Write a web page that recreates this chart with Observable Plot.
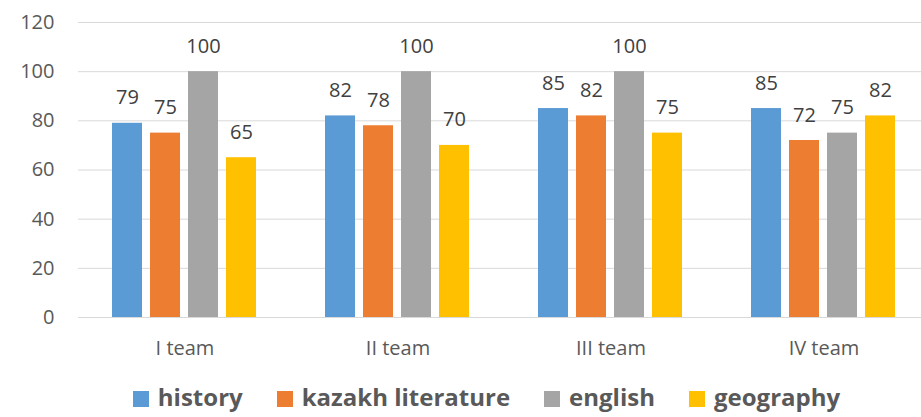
<!DOCTYPE html>
<html>
<head>
<meta charset="utf-8">
<script src="https://cdn.jsdelivr.net/npm/d3@7"></script>
<script src="https://cdn.jsdelivr.net/npm/@observablehq/plot@0.6"></script>
<style>
  html, body { margin: 0; padding: 0; background: #fff; }
  #chart { width: 921px; }
  .legend { display: flex; justify-content: center; align-items: center; height: 40px; margin-top: 7px;
    font-family: "Open Sans", sans-serif; font-weight: bold; font-size: 24px; line-height: 30px; color: #595959;
    padding-left: 52px; box-sizing: border-box; width: 921px; }
  .legend .item { display: flex; align-items: center; margin: 0 17px; }
  .legend .sw { width: 16px; height: 16px; margin-right: 9px; margin-top: 3px; }
</style>
</head>
<body>
<div id="chart"></div>
<script>
const teams = ["I team", "II team", "III team", "IV team"];
const subjects = ["history", "kazakh literature", "english", "geography"];
const colors = ["#5B9BD5", "#ED7D31", "#A5A5A5", "#FFC000"];
const history = [79, 82, 85, 85];
const kazakhLiterature = [75, 78, 82, 72];
const english = [100, 100, 100, 75];
const geography = [65, 70, 75, 82];
const yTicks = [0, 20, 40, 60, 80, 100, 120];

const series = [history, kazakhLiterature, english, geography];
const data = [];
teams.forEach((t, i) => subjects.forEach((s, j) => data.push({team: t, subject: s, value: series[j][i]})));

const font = "Open Sans, sans-serif";
const plot = Plot.plot({
  width: 921,
  height: 370,
  marginLeft: 77,
  marginRight: 0,
  marginTop: 22,
  marginBottom: 53,
  style: {fontFamily: font, fontSize: "20px", color: "#595959", background: "#fff", overflow: "visible"},
  fx: {domain: teams, range: [77, 932], paddingInner: 0.317, paddingOuter: 0.158, label: null},
  x: {domain: subjects, paddingInner: 0.21, paddingOuter: 0, axis: null},
  y: {domain: [0, 120], axis: null},
  color: {domain: subjects, range: colors},
  marks: [
    Plot.ruleY(yTicks, {y: d => d, stroke: "#D9D9D9", strokeWidth: 1, insetLeft: -34, insetRight: -34}),
    Plot.barY(data, {fx: "team", x: "subject", y: "value", fill: "subject"}),
    Plot.text(data, {fx: "team", x: "subject", y: "value", text: d => String(d.value),
      lineAnchor: "bottom", dy: -19, fill: "#404040", fontSize: 20}),
    Plot.axisY(yTicks, {tickSize: 0, tickPadding: 58, fontSize: 20, fill: "#595959", label: null}),
    Plot.axisFx({anchor: "bottom", tickSize: 0, tickPadding: 23, fontSize: 20, fill: "#595959", label: null})
  ]
});
document.getElementById("chart").appendChild(plot);

const legend = document.createElement("div");
legend.className = "legend";
subjects.forEach((s, j) => {
  const it = document.createElement("div");
  it.className = "item";
  const sw = document.createElement("div");
  sw.className = "sw";
  sw.style.background = colors[j];
  const tx = document.createElement("span");
  tx.textContent = s;
  it.appendChild(sw); it.appendChild(tx);
  legend.appendChild(it);
});
document.getElementById("chart").appendChild(legend);
</script>
</body>
</html>
